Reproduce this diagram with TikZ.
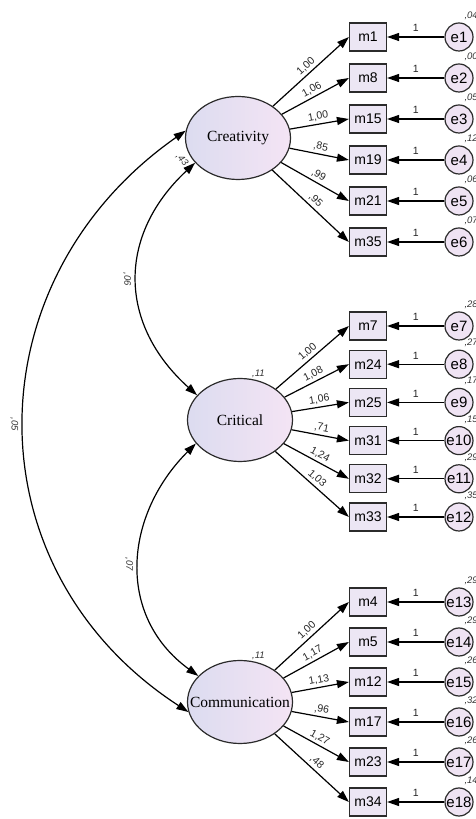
\documentclass[tikz,border=0pt]{standalone}
\usepackage{fontspec}
\setmainfont{Liberation Serif}
\setsansfont{Liberation Sans}
\usepackage{xcolor}
\usepackage{tikz}
\usetikzlibrary{positioning, arrows.meta, calc, shapes.geometric}
\definecolor{boxfill}{HTML}{ECE6F4}
\definecolor{errfill}{HTML}{EFE3F3}
\definecolor{latleft}{HTML}{DCDCF0}
\definecolor{latright}{HTML}{F4E4F4}
\definecolor{edgegray}{HTML}{2B2B2B}

\tikzset{
  latent/.style={ellipse, draw=edgegray, line width=1.2pt, left color=latleft, right color=latright,
                 minimum width=105pt, minimum height=83pt, inner sep=0pt},
  latname/.style={font=\fontsize{15.5}{18}\selectfont, inner sep=0pt},
  indic/.style={rectangle, draw=edgegray, line width=1.2pt, fill=boxfill, minimum width=37pt,
                minimum height=28pt, inner sep=0pt, font=\sffamily\fontsize{14}{16}\selectfont},
  err/.style={circle, draw=edgegray, line width=1.2pt, fill=errfill, minimum size=28pt,
              inner sep=0pt, font=\sffamily\fontsize{15}{17}\selectfont},
  load/.style={-{Triangle[length=12pt,width=8pt]}, line width=1.2pt},
  covar/.style={{Triangle[length=12pt,width=8pt]}-{Triangle[length=12pt,width=8pt]}, line width=1.2pt},
  est/.style={font=\sffamily\fontsize{10.5}{12}\selectfont, inner sep=1.5pt, text=black!85},
  var/.style={font=\sffamily\itshape\fontsize{9.5}{11}\selectfont, inner sep=1pt, text=black!80},
}

\begin{document}
\begin{tikzpicture}[x=1pt, y=1pt]
  \useasboundingbox (0,0) rectangle (476,819);

  % latent factors
  \node[latent, label={[latname]center:Creativity}] (crea) at (238,681) {};
  \node[latent, label={[latname]center:Critical}, label={[var]75:{,11}}] (crit) at (240,399) {};
  \node[latent, label={[latname]center:Communication}, label={[var]75:{,11}}] (comm) at (240,117) {};
  \node[var, rotate=-50] (vcrea) at (182,659) {,43};

  % creativity items
  \foreach \m/\e/\w/\v [count=\i from 0] in {m1/e1/{1,00}/{,04}, m8/e2/{1,06}/{,00}, m15/e3/{1,00}/{,05},
      m19/e4/{,85}/{,12}, m21/e5/{,99}/{,06}, m35/e6/{,95}/{,07}}{
    \pgfmathsetmacro\yy{782-41*\i}
    \node[indic] (\m) at (368,\yy) {\m};
    \node[err, label={[var, label distance=2pt]75:{\v}}] (\e) at (459,\yy) {\e};
    \draw[load] (crea) -- node[est, sloped, above=1pt, pos=0.5] (w\m) {\w} (\m.west);
    \draw[load] (\e) -- node[est, above=3pt] (o\e) {1} (\m);
  }

  % critical items
  \foreach \m/\e/\w/\v [count=\i from 0] in {m7/e7/{1,00}/{,28}, m24/e8/{1,08}/{,27}, m25/e9/{1,06}/{,17},
      m31/e10/{,71}/{,15}, m32/e11/{1,24}/{,29}, m33/e12/{1,03}/{,35}}{
    \pgfmathsetmacro\yy{493-38.2*\i}
    \node[indic] (\m) at (368,\yy) {\m};
    \node[err, label={[var, label distance=2pt]75:{\v}}] (\e) at (459,\yy) {\e};
    \draw[load] (crit) -- node[est, sloped, above=1pt, pos=0.5] (w\m) {\w} (\m.west);
    \draw[load] (\e) -- node[est, above=3pt] (o\e) {1} (\m);
  }

  % communication items
  \foreach \m/\e/\w/\v [count=\i from 0] in {m4/e13/{1,00}/{,29}, m5/e14/{1,17}/{,29}, m12/e15/{1,13}/{,26},
      m17/e16/{,96}/{,32}, m23/e17/{1,27}/{,26}, m34/e18/{,48}/{,14}}{
    \pgfmathsetmacro\yy{217-40*\i}
    \node[indic] (\m) at (368,\yy) {\m};
    \node[err, label={[var, label distance=2pt]75:{\v}}] (\e) at (459,\yy) {\e};
    \draw[load] (comm) -- node[est, sloped, above=1pt, pos=0.5] (w\m) {\w} (\m.west);
    \draw[load] (\e) -- node[est, above=3pt] (o\e) {1} (\m);
  }

  % covariances
  \draw[covar] (crea.172) to[out=215, in=147, looseness=1.15]
    node[var, midway, xshift=-10pt, rotate=-90] (c05) {,05} (comm.191);
  \draw[covar] (crea.210) to[out=223, in=138, looseness=1.17]
    node[var, midway, xshift=-10pt, rotate=-90] (c06) {,06} (crit.150);
  \draw[covar] (crit.208) to[out=225, in=144, looseness=1.12]
    node[var, midway, xshift=-10pt, rotate=-90] (c07) {,07} (comm.148);
\end{tikzpicture}
\end{document}
